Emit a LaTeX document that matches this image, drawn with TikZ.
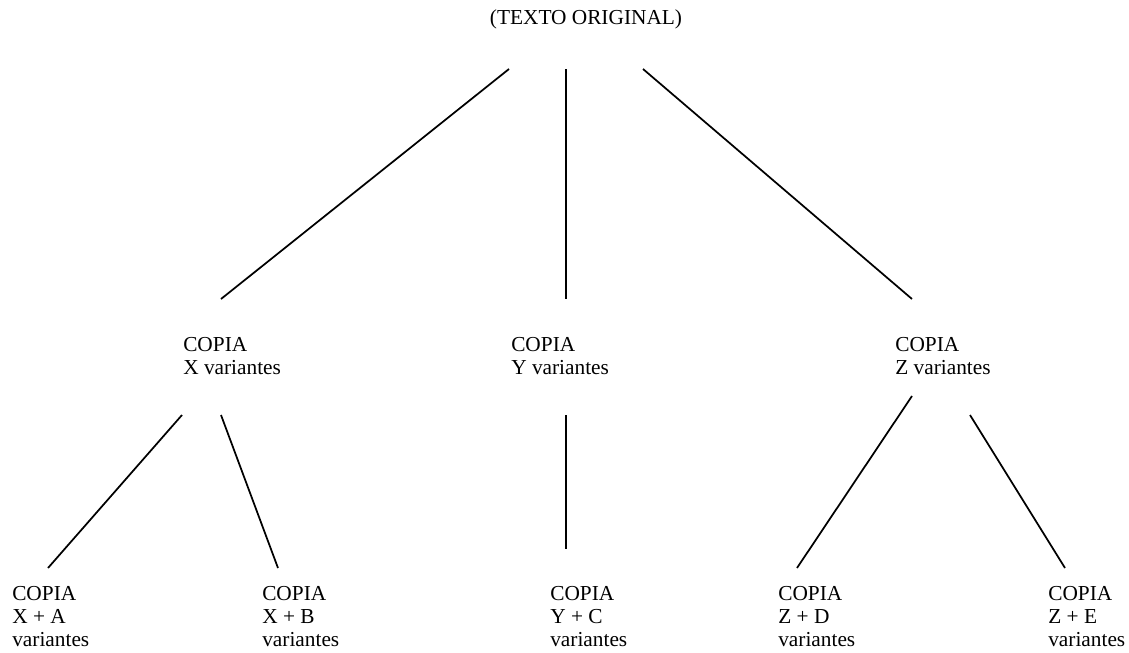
\documentclass[tikz,border=0pt]{standalone}
\usepackage{fontspec}
\setmainfont{Liberation Serif}
\begin{document}
\begin{tikzpicture}[x=0.75pt, y=-0.75pt]
        \tikzstyle{copia}=[anchor=base west, inner sep=0pt, align=left, font=\fontsize{16}{17.25}\selectfont]
        \tikzstyle{rama}=[draw, line width=1.3pt]
        \useasboundingbox (0,0) rectangle (1129,653);

        \node[copia, anchor=base](orig) at (586,25){(TEXTO ORIGINAL)};
        \node[copia](cx) at (183,374){COPIA\\X variantes};
        \node[copia](cy) at (511,374){COPIA\\Y variantes};
        \node[copia](cz) at (895,374){COPIA\\Z variantes};
        \node[copia](cxa) at (12,646){COPIA\\X + A\\variantes};
        \node[copia](cxb) at (262,646){COPIA\\X + B\\variantes};
        \node[copia](cyc) at (550,646){COPIA\\Y + C\\variantes};
        \node[copia](czd) at (778,646){COPIA\\Z + D\\variantes};
        \node[copia](cze) at (1048,646){COPIA\\Z + E\\variantes};

        % line ends
        \coordinate (o1) at (509,69);
        \coordinate (o2) at (566,69);
        \coordinate (o3) at (643,69);
        \coordinate (x0) at (221,299);
        \coordinate (y0) at (566,299);
        \coordinate (z0) at (912,299);
        \coordinate (x1) at (182,415);
        \coordinate (x2) at (221,415);
        \coordinate (y1) at (566,415);
        \coordinate (z1) at (912,396);
        \coordinate (z2) at (970,415);
        \coordinate (xa) at (48,568);
        \coordinate (xb) at (278,568);
        \coordinate (yc) at (566,549);
        \coordinate (zd) at (797,568);
        \coordinate (ze) at (1065,568);

        \path[rama] (o1) -- (x0);
        \path[rama] (o2) -- (y0);
        \path[rama] (o3) -- (z0);
        \path[rama] (x1) -- (xa);
        \path[rama] (x2) -- (xb);
        \path[rama] (y1) -- (yc);
        \path[rama] (z1) -- (zd);
        \path[rama] (z2) -- (ze);

        \end{tikzpicture}
\end{document}
